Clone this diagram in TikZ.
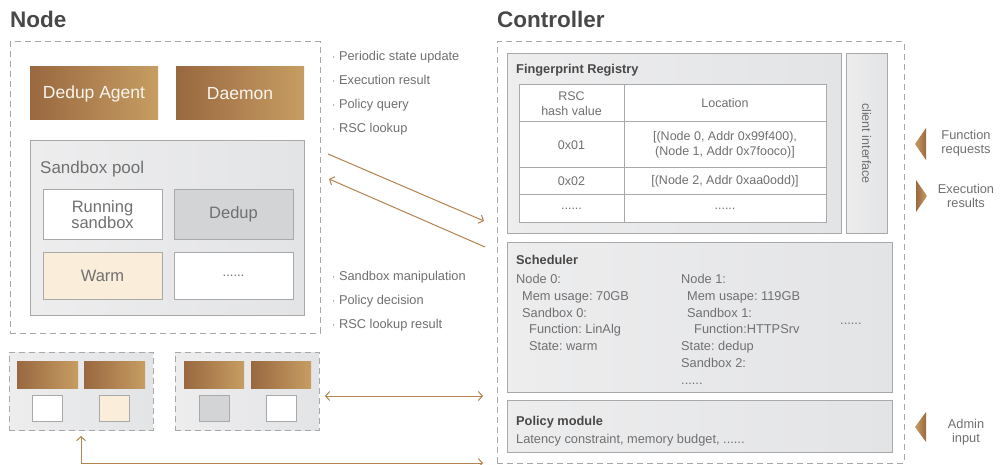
\documentclass[tikz,border=0pt]{standalone}
\usepackage{fontspec}
\setmainfont{Liberation Sans}
\usetikzlibrary{arrows.meta}
\frenchspacing
\definecolor{dashgray}{HTML}{A8A8A8}
\definecolor{panelA}{HTML}{EDEDEE}
\definecolor{panelB}{HTML}{E3E4E6}
\definecolor{panelline}{HTML}{A9A9A9}
\definecolor{txt}{HTML}{707070}
\definecolor{txtdark}{HTML}{484848}
\definecolor{brownA}{HTML}{996840}
\definecolor{brownB}{HTML}{C79D62}
\definecolor{warmfill}{HTML}{FAEEDB}
\definecolor{dedupfill}{HTML}{D3D4D6}
\definecolor{arrowc}{HTML}{B5834F}
\tikzset{
  corner/.style={anchor=north west, inner sep=0pt, outer sep=0pt},
  dashbox/.style={corner, draw=dashgray, line width=1pt, dash pattern=on 6pt off 4pt},
  panel/.style={corner, draw=panelline, line width=1pt, left color=panelA, right color=panelB},
  brownbar/.style={corner, left color=brownA, right color=brownB, text=white!90!brownB, font=\fontsize{17.5}{19}\selectfont},
  slot/.style={corner, draw=panelline, line width=1pt, fill=white, text=txt, font=\fontsize{16.5}{15.5}\selectfont, align=center},
  title/.style={anchor=base west, inner sep=0pt, text=txtdark, font=\fontsize{22.5}{24}\selectfont\bfseries},
  ptitle/.style={anchor=base west, inner sep=0pt, text=txtdark, font=\fontsize{12.8}{14}\selectfont\bfseries},
  note/.style={anchor=base west, inner sep=0pt, text=txt, font=\fontsize{12.8}{14}\selectfont},
  cell/.style={corner, draw=panelline, line width=1pt, fill=white, text=txt, align=center, font=\fontsize{12.5}{15}\selectfont},
  side/.style={inner sep=0pt, text=txt, align=center, font=\fontsize{12.8}{14.5}\selectfont},
  link/.style={draw=arrowc, line width=1pt},
  tipend/.style={-{Straight Barb[length=4pt,width=9pt,line width=1pt]}},
  tipboth/.style={{Straight Barb[length=4pt,width=9pt,line width=1pt]}-{Straight Barb[length=4pt,width=9pt,line width=1pt]}},
}
\begin{document}
\begin{tikzpicture}[x=1pt,y=-1pt]
\useasboundingbox[fill=white] (0,0) rectangle (1006,465);

% ---------- Node side ----------
\node[title] (nodetitle) at (10,28) {Node};
\node[dashbox, minimum width=310pt, minimum height=291pt] (nodebox) at (10,42) {};
\node[brownbar, minimum width=128pt, minimum height=53pt] (agent) at (30,67) {Dedup Agent};
\node[brownbar, minimum width=128pt, minimum height=53pt] (daemon) at (176,67) {Daemon};
\node[panel, minimum width=274pt, minimum height=174pt] (pool) at (30,141) {};
\node[anchor=base west, inner sep=0pt, text=txt, font=\fontsize{17}{18}\selectfont] (pooltitle) at (40,174) {Sandbox pool};
\node[slot, minimum width=119pt, minimum height=49pt] (running) at (43,190) {Running\\sandbox};
\node[slot, fill=dedupfill, minimum width=119pt, minimum height=49pt] (dedup) at (174,190) {Dedup};
\node[slot, fill=warmfill, minimum width=119pt, minimum height=47pt] (warm) at (43,252) {Warm};
\node[slot, minimum width=119pt, minimum height=47pt] (more) at (174,252) {\fontsize{13}{14}\selectfont......};

% messages from node to controller
\node[note] (m1) at (332,61) {$\cdot$ Periodic state update};
\node[note] (m2) at (332,85) {$\cdot$ Execution result};
\node[note] (m3) at (332,109) {$\cdot$ Policy query};
\node[note] (m4) at (332,133) {$\cdot$ RSC lookup};
% messages from controller to node
\node[note] (r1) at (332,280) {$\cdot$ Sandbox manipulation};
\node[note] (r2) at (332,304) {$\cdot$ Policy decision};
\node[note] (r3) at (332,328) {$\cdot$ RSC lookup result};

% further nodes
\node[panel, draw=dashgray, dash pattern=on 6pt off 4pt, minimum width=144pt, minimum height=78pt] (n1) at (9,352) {};
\node[corner, left color=brownA, right color=brownB, minimum width=61pt, minimum height=27pt] (n1a) at (17,361) {};
\node[corner, left color=brownA, right color=brownB, minimum width=61pt, minimum height=27pt] (n1b) at (84,361) {};
\node[slot, minimum width=30pt, minimum height=26pt] (n1s1) at (32,395) {};
\node[slot, fill=warmfill, minimum width=30pt, minimum height=26pt] (n1s2) at (99,395) {};

\node[panel, draw=dashgray, dash pattern=on 6pt off 4pt, minimum width=144pt, minimum height=78pt] (n2) at (175,352) {};
\node[corner, left color=brownA, right color=brownB, minimum width=60pt, minimum height=27pt] (n2a) at (184,361) {};
\node[corner, left color=brownA, right color=brownB, minimum width=60pt, minimum height=27pt] (n2b) at (251,361) {};
\node[slot, fill=dedupfill, minimum width=30pt, minimum height=26pt] (n2s1) at (199,395) {};
\node[slot, minimum width=30pt, minimum height=26pt] (n2s2) at (266,395) {};

% ---------- Controller side ----------
\node[title] (ctltitle) at (497,28) {Controller};
\node[dashbox, minimum width=407pt, minimum height=421pt] (ctlbox) at (497,42) {};

\node[panel, minimum width=334pt, minimum height=179pt] (registry) at (507,54) {};
\node[ptitle] (regtitle) at (516,74) {Fingerprint Registry};
\node[cell, minimum width=105pt, minimum height=37pt] (h0) at (519,85) {RSC\\hash value};
\node[cell, minimum width=202pt, minimum height=37pt] (l0) at (624,85) {Location};
\node[cell, minimum width=105pt, minimum height=46pt] (h1) at (519,122) {0x01};
\node[cell, minimum width=202pt, minimum height=46pt] (l1) at (624,122) {[(Node 0, Addr 0x99f400),\\(Node 1, Addr 0x7fooco)]};
\node[cell, minimum width=105pt, minimum height=27pt] (h2) at (519,168) {0x02};
\node[cell, minimum width=202pt, minimum height=27pt] (l2) at (624,168) {[(Node 2, Addr 0xaa0odd)]};
\node[cell, minimum width=105pt, minimum height=27pt] (h3) at (519,195) {......};
\node[cell, minimum width=202pt, minimum height=27pt] (l3) at (624,195) {......};

\node[panel, minimum width=41pt, minimum height=179pt] (client) at (846,54) {};
\node[inner sep=0pt, text=txt, rotate=-90, font=\fontsize{12.5}{14}\selectfont] (clientlabel) at (client.center) {client interface};

\node[panel, minimum width=385pt, minimum height=150pt] (sched) at (507,242) {};
\node[ptitle] (schedtitle) at (516,264) {Scheduler};
\node[note, align=left, anchor=north west, font=\fontsize{12.8}{16.8}\selectfont] (s0) at (516,274)
  {Node 0:\\\hspace*{6pt}Mem usage: 70GB\\\hspace*{6pt}Sandbox 0:\\\hspace*{13pt}Function: LinAlg\\\hspace*{13pt}State: warm};
\node[note, align=left, anchor=north west, font=\fontsize{12.8}{16.8}\selectfont] (s1) at (681,274)
  {Node 1:\\\hspace*{6pt}Mem usape: 119GB\\\hspace*{6pt}Sandbox 1:\\\hspace*{13pt}Function:HTTPSrv\\State: dedup\\Sandbox 2:\\......};
\node[note] (s2) at (840,324) {......};

\node[panel, minimum width=385pt, minimum height=52pt] (policy) at (507,400) {};
\node[ptitle] (poltitle) at (516,425) {Policy module};
\node[note] (poltext) at (516,443) {Latency constraint, memory budget, ......};

% external inputs and outputs
\shade[left color=brownB, right color=brownA] (915,144) -- (926,128) -- (926,160) -- cycle;
\node[side] (freq) at (966,143) {Function\\requests};
\shade[left color=brownA, right color=brownB] (927,196) -- (916,180) -- (916,212) -- cycle;
\node[side] (eres) at (966,196) {Execution\\results};
\shade[left color=brownB, right color=brownA] (915,427) -- (926,412) -- (926,442) -- cycle;
\node[side] (admin) at (966,432) {Admin\\input};

% ---------- connectors ----------
\coordinate (upA) at (328,154);
\coordinate (upB) at (484,221);
\coordinate (dnA) at (329,179);
\coordinate (dnB) at (485,247);
\draw[link, tipend] (upA) -- (upB);
\draw[link, tipend] (dnB) -- (dnA);

\coordinate (hA) at (325,396);
\coordinate (hB) at (483,396);
\draw[link, tipboth] (hA) -- (hB);

\coordinate (lA) at (81,436);
\coordinate (lB) at (483,463);
\draw[link, tipboth] (lA) |- (lB);
\end{tikzpicture}
\end{document}
